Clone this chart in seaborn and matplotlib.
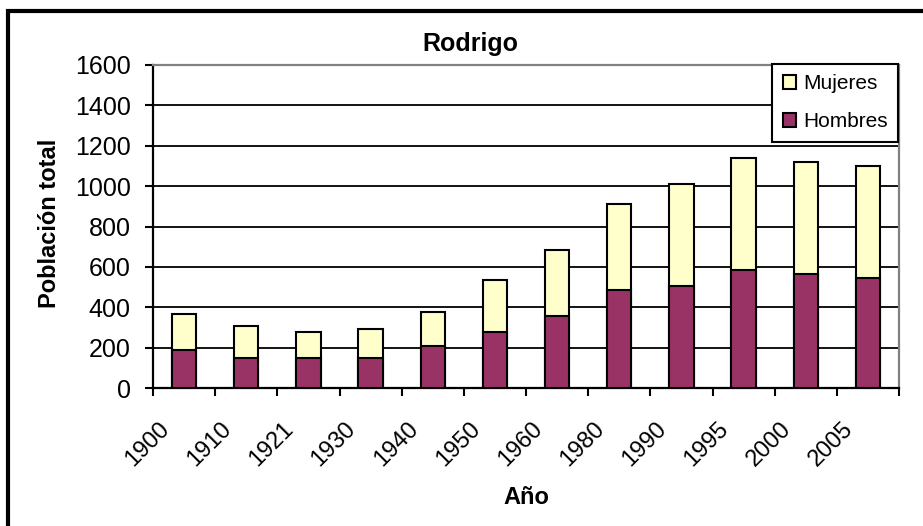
import numpy as np
import pandas as pd
import matplotlib
matplotlib.use("Agg")
import matplotlib.pyplot as plt
from matplotlib.patches import Patch, Rectangle
from matplotlib.transforms import ScaledTranslation
import seaborn as sns

# Census years and population by sex
years = ["1900", "1910", "1921", "1930", "1940", "1950",
         "1960", "1980", "1990", "1995", "2000", "2005"]
hombres = [187, 149, 149, 149, 208, 278, 357, 486, 506, 585, 565, 545]
mujeres = [182, 158, 129, 141, 169, 257, 327, 426, 505, 555, 555, 556]
yticks = [0, 200, 400, 600, 800, 1000, 1200, 1400, 1600]

title = "Rodrigo"
xlabel = "Año"
ylabel = "Población total"

color_h = "#993366"
color_m = "#FFFFCC"

df = pd.DataFrame({"year": years, "Hombres": hombres, "Mujeres": mujeres})
df["Total"] = df["Hombres"] + df["Mujeres"]

sns.set_style("white")
plt.rcParams["font.family"] = ["Liberation Sans", "DejaVu Sans"]
plt.rcParams["text.color"] = "black"
plt.rcParams["axes.labelcolor"] = "black"
plt.rcParams["xtick.color"] = "black"
plt.rcParams["ytick.color"] = "black"

W, H = 923, 526
fig = plt.figure(figsize=(W / 100, H / 100), dpi=100)
ax = fig.add_axes([153 / W, 1 - 388 / H, (899 - 153) / W, (388 - 65) / H])

# Stacked bars: full height in the women's colour, men drawn over the lower part
sns.barplot(data=df, x="year", y="Total", order=years, color=color_m,
            saturation=1, width=0.39, edgecolor="black", linewidth=1.5,
            ax=ax, zorder=3)
sns.barplot(data=df, x="year", y="Hombres", order=years, color=color_h,
            saturation=1, width=0.39, edgecolor="black", linewidth=1.5,
            ax=ax, zorder=4)

ax.set_xlim(-0.5, len(years) - 0.5)
ax.set_ylim(0, 1600)
ax.set_yticks(yticks)
ax.set_yticklabels([str(v) for v in yticks], fontsize=18)

# Category labels at bar centres, tick marks between categories
ax.set_xticks(range(len(years)))
ax.set_xticklabels(years, fontsize=17, rotation=45, ha="right", va="center",
                   rotation_mode="anchor")
ax.set_xticks(np.arange(-0.5, len(years)), minor=True)
ax.tick_params(axis="x", which="major", length=0, pad=0)
ax.tick_params(axis="x", which="minor", length=6, width=1.5, color="black",
               direction="out", bottom=True)
ax.tick_params(axis="y", which="major", length=6, width=1.5, color="black",
               direction="out", left=True, pad=10)
offset = ScaledTranslation(-18 / 100, -38 / 100, fig.dpi_scale_trans)
for lab in ax.get_xticklabels():
    lab.set_transform(lab.get_transform() + offset)

ax.yaxis.grid(True, color="black", linewidth=1.3)
ax.xaxis.grid(False)
ax.set_axisbelow(True)

for side in ("left", "bottom"):
    ax.spines[side].set_color("black")
    ax.spines[side].set_linewidth(1.6)
for side in ("top", "right"):
    ax.spines[side].set_visible(True)
    ax.spines[side].set_color("#808080")
    ax.spines[side].set_linewidth(1.6)

ax.set_xlabel(xlabel, fontsize=17, fontweight="bold", va="center")
ax.xaxis.set_label_coords(0.5, (388 - 498) / 323)
ax.set_ylabel(ylabel, fontsize=17, fontweight="bold", va="center")
ax.yaxis.set_label_coords((50 - 153) / 746, 0.51)

fig.text(470 / W, 1 - 44 / H, title, fontsize=18, fontweight="bold",
         ha="center", va="center")

handles = [Patch(facecolor=color_m, edgecolor="black", linewidth=1.5),
           Patch(facecolor=color_h, edgecolor="black", linewidth=1.5)]
leg = fig.legend(handles, ["Mujeres", "Hombres"], loc="upper right",
                 bbox_to_anchor=(898 / W, 1 - 64 / H),
                 bbox_transform=fig.transFigure, fontsize=15,
                 frameon=True, fancybox=False, shadow=False, borderaxespad=0,
                 handlelength=0.62, handleheight=0.62, handletextpad=0.35,
                 labelspacing=0.9, borderpad=0.5)
leg.get_frame().set_edgecolor("black")
leg.get_frame().set_linewidth(1.5)
leg.get_frame().set_alpha(1)

# Chart area border
fig.patches.append(Rectangle((8 / W, -0.1), 1.2, 1 - 11 / H + 0.1,
                             transform=fig.transFigure, fill=False,
                             edgecolor="black", linewidth=3))

fig.savefig("out.png", dpi=100)
